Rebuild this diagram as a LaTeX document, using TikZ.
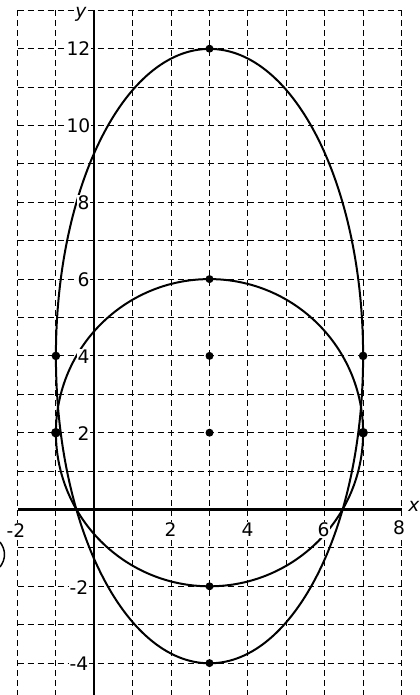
\documentclass[tikz,border=0pt]{standalone}
\usepackage{fontspec}
\setmainfont{DejaVu Sans}
\usepackage{tikz}

\begin{document}
\begin{tikzpicture}[x=0.75pt,y=0.75pt,yscale=-1,xscale=1,
  lbl/.style={fill=white, inner sep=0.6pt, font=\fontsize{14}{16}\selectfont},
  curve/.style={line width=1.5pt},
  dot/.style={fill=black}]
\useasboundingbox (0,0) rectangle (420,695);

%Shape: Grid [id:grid_vertical] 
\draw  [line width=0.7pt, dash pattern={on 4.5pt off 3pt}] (17.5,10.3) -- (17.5,695)(55.9,10.3) -- (55.9,695)(132.7,10.3) -- (132.7,695)(171.1,10.3) -- (171.1,695)(209.5,10.3) -- (209.5,695)(247.9,10.3) -- (247.9,695)(286.3,10.3) -- (286.3,695)(324.7,10.3) -- (324.7,695)(363.1,10.3) -- (363.1,695)(401.5,10.3) -- (401.5,695) ;
%Shape: Grid [id:grid_horizontal] 
\draw  [line width=0.7pt, dash pattern={on 4.5pt off 3pt}] (17.5,10.3) -- (401.5,10.3)(17.5,48.7) -- (401.5,48.7)(17.5,87.1) -- (401.5,87.1)(17.5,125.5) -- (401.5,125.5)(17.5,163.9) -- (401.5,163.9)(17.5,202.3) -- (401.5,202.3)(17.5,240.7) -- (401.5,240.7)(17.5,279.1) -- (401.5,279.1)(17.5,317.5) -- (401.5,317.5)(17.5,355.9) -- (401.5,355.9)(17.5,394.3) -- (401.5,394.3)(17.5,432.7) -- (401.5,432.7)(17.5,471.1) -- (401.5,471.1)(17.5,547.9) -- (401.5,547.9)(17.5,586.3) -- (401.5,586.3)(17.5,624.7) -- (401.5,624.7)(17.5,663.1) -- (401.5,663.1) ;

%Straight Lines [id:axis_x] 
\draw  [line width=1.6pt]  (17.5,509.5) -- (401.5,509.5) ;
%Straight Lines [id:axis_y] 
\draw  [line width=1.6pt]  (94.3,10.3) -- (94.3,695) ;

%Shape: Ellipse [id:ellipse_tall] 
\draw  [curve] (209.5,356.1) ellipse [x radius=153.6, y radius=307.2] ;
%Shape: Circle [id:circle_small] 
\draw  [curve] (209.5,432.7) circle [radius=153.6] ;

%Curve Lines [id:edge_mark] 
\draw  [line width=1.1pt]  (0,542) .. controls (6,550) and (6,559) .. (0,567) ;

%Shape: Circle [id:dots] 
\fill  [dot] (209.5,48.7) circle [radius=4] ;
\fill  [dot] (209.5,279.1) circle [radius=4] ;
\fill  [dot] (209.5,355.9) circle [radius=4] ;
\fill  [dot] (209.5,432.7) circle [radius=4] ;
\fill  [dot] (209.5,586.3) circle [radius=4] ;
\fill  [dot] (209.5,663.1) circle [radius=4] ;
\fill  [dot] (55.9,355.9) circle [radius=4.3] ;
\fill  [dot] (55.9,432.7) circle [radius=4.8] ;
\fill  [dot] (363.1,355.9) circle [radius=4.3] ;
\fill  [dot] (363.1,432.7) circle [radius=4.8] ;

% Text Node
\node [lbl] (ylab12) at (78.5,49) {12};
% Text Node
\node [lbl] (ylab10) at (78.5,126) {10};
% Text Node
\node [lbl] (ylab8) at (83.5,203) {8};
% Text Node
\node [lbl] (ylab6) at (83.5,280) {6};
% Text Node
\node [lbl] (ylab4) at (83.5,357) {4};
% Text Node
\node [lbl] (ylab2) at (83.5,433.5) {2};
% Text Node
\node [lbl] (ylabm2) at (79,587.5) {-2};
% Text Node
\node [lbl] (ylabm4) at (79,664) {-4};
% Text Node
\node [lbl] (xlabm2) at (16,531) {-2};
% Text Node
\node [lbl] (xlab2) at (170.5,530) {2};
% Text Node
\node [lbl] (xlab4) at (247.5,530) {4};
% Text Node
\node [lbl] (xlab6) at (323.5,530) {6};
% Text Node
\node [lbl] (xlab8) at (399,528) {8};
% Text Node
\node [lbl] (xname) at (414,506) {\itshape x};
% Text Node
\node [lbl] (yname) at (81,14) {\itshape y};

\end{tikzpicture}
\end{document}
